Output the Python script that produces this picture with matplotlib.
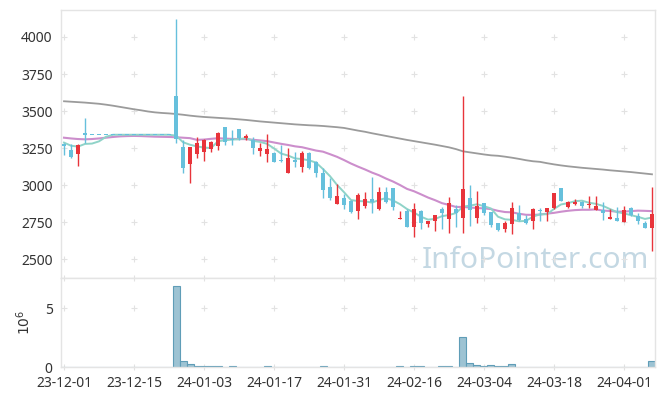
import matplotlib
matplotlib.use('Agg')
import matplotlib.pyplot as plt
import numpy as np
import pandas as pd

# ---------------- data ----------------
dates = ("2023-12-01 2023-12-04 2023-12-05 2023-12-06 2023-12-07 2023-12-08 2023-12-11 2023-12-12 "
         "2023-12-13 2023-12-14 2023-12-15 2023-12-18 2023-12-19 2023-12-20 2023-12-21 2023-12-22 "
         "2023-12-26 2023-12-27 2023-12-28 2024-01-02 2024-01-03 2024-01-04 2024-01-05 2024-01-08 "
         "2024-01-09 2024-01-10 2024-01-11 2024-01-12 2024-01-15 2024-01-16 2024-01-17 2024-01-18 "
         "2024-01-19 2024-01-22 2024-01-23 2024-01-24 2024-01-25 2024-01-26 2024-01-29 2024-01-30 "
         "2024-01-31 2024-02-01 2024-02-02 2024-02-05 2024-02-06 2024-02-07 2024-02-08 2024-02-13 "
         "2024-02-14 2024-02-15 2024-02-16 2024-02-19 2024-02-20 2024-02-21 2024-02-22 2024-02-23 "
         "2024-02-26 2024-02-27 2024-02-28 2024-02-29 2024-03-04 2024-03-05 2024-03-06 2024-03-07 "
         "2024-03-08 2024-03-11 2024-03-12 2024-03-13 2024-03-14 2024-03-15 2024-03-18 2024-03-19 "
         "2024-03-20 2024-03-21 2024-03-22 2024-03-25 2024-03-26 2024-03-27 2024-03-28 2024-03-29 "
         "2024-04-01 2024-04-02 2024-04-03 2024-04-04 2024-04-05").split()

opens = [3275, 3237, 3212, 3352, 3340, 3340, 3340, 3340, 3340, 3340,
         3340, 3340, 3340, 3340, 3340, 3340, 3600, 3260, 3141, 3210,
         3226, 3242, 3266, 3390, 3312, 3380, 3318, 3305, 3233, 3210,
         3220, 3170, 3085, 3170, 3120, 3220, 3155, 3085, 2990, 2875,
         2910, 2893, 2828, 2861, 2904, 2839, 2956, 2980, 2770, 2822,
         2716, 2826, 2738, 2755, 2840, 2770, 2840, 2776, 2912, 2780,
         2878, 2817, 2742, 2702, 2738, 2810, 2770, 2758, 2830, 2818,
         2844, 2980, 2850, 2873, 2889, 2864, 2832, 2832, 2774, 2777,
         2754, 2845, 2792, 2747, 2710]
closes = [3265, 3187, 3270, 3340, 3340, 3340, 3340, 3340, 3340, 3340,
          3340, 3340, 3340, 3340, 3340, 3340, 3310, 3118, 3255, 3282,
          3305, 3289, 3350, 3288, 3305, 3315, 3332, 3253, 3253, 3242,
          3158, 3160, 3186, 3155, 3220, 3115, 3085, 2967, 2915, 2927,
          2868, 2819, 2934, 2904, 2884, 2956, 2884, 2855, 2778, 2720,
          2839, 2742, 2758, 2798, 2815, 2877, 2810, 2974, 2832, 2860,
          2814, 2731, 2697, 2742, 2844, 2765, 2745, 2840, 2822, 2844,
          2945, 2896, 2884, 2889, 2861, 2875, 2859, 2814, 2783, 2758,
          2832, 2798, 2758, 2713, 2805]
highs = [3282, 3280, 3278, 3455, 3340, 3340, 3340, 3340, 3340, 3340,
         3340, 3340, 3340, 3340, 3340, 3340, 4120, 3305, 3260, 3327,
         3310, 3300, 3357, 3395, 3372, 3382, 3342, 3327, 3282, 3343,
         3226, 3271, 3253, 3226, 3230, 3225, 3160, 3114, 3046, 3008,
         2940, 2900, 2945, 2952, 3053, 2990, 2985, 2982, 2828, 2840,
         2877, 2830, 2760, 2800, 2850, 2922, 2866, 3602, 3001, 2960,
         2880, 2820, 2745, 2760, 2889, 2866, 2800, 2845, 2845, 2848,
         2948, 2982, 2895, 2907, 2895, 2927, 2925, 2889, 2840, 2855,
         2860, 2855, 2810, 2760, 2986]
lows = [3200, 3185, 3130, 3287, 3340, 3340, 3340, 3340, 3340, 3340,
        3340, 3340, 3340, 3340, 3340, 3340, 3285, 3080, 3012, 3181,
        3163, 3222, 3237, 3271, 3272, 3305, 3305, 3208, 3199, 3158,
        3155, 3155, 3084, 3125, 3087, 3110, 3053, 2911, 2900, 2875,
        2837, 2815, 2770, 2844, 2814, 2835, 2880, 2832, 2768, 2715,
        2652, 2702, 2716, 2690, 2702, 2675, 2720, 2680, 2724, 2742,
        2800, 2720, 2690, 2686, 2670, 2760, 2740, 2702, 2755, 2758,
        2840, 2890, 2848, 2866, 2848, 2844, 2830, 2765, 2772, 2755,
        2752, 2790, 2740, 2708, 2558]
volumes_m = [0.005, 0.005, 0.005, 0.005, 0, 0, 0, 0, 0, 0,
             0, 0, 0, 0, 0, 0, 6.89, 0.53, 0.25, 0.08,
             0.08, 0.08, 0.08, 0.01, 0.07, 0.01, 0.01, 0.01, 0.01, 0.07,
             0.01, 0.01, 0.01, 0.01, 0.01, 0.01, 0.01, 0.07, 0.01, 0.01,
             0.01, 0.01, 0.01, 0.01, 0.01, 0.01, 0.01, 0.01, 0.07, 0.01,
             0.07, 0.07, 0.01, 0.01, 0.07, 0.07, 0.01, 2.54, 0.34, 0.17,
             0.08, 0.17, 0.08, 0.08, 0.25, 0.01, 0.01, 0.01, 0.01, 0.01,
             0.01, 0.01, 0.01, 0.01, 0.01, 0.01, 0.01, 0.06, 0.01, 0.01,
             0.01, 0.06, 0.01, 0.01, 0.53]
ma5_head = [3287, 3266, 3260, 3278]
ma20_head = [3320, 3315, 3311, 3309, 3311, 3315, 3320, 3325, 3329, 3331,
             3332, 3331, 3329, 3327, 3326, 3325, 3323, 3320, 3317]
ma_long = [3566, 3563, 3560, 3557, 3553, 3549, 3543, 3536, 3528, 3520,
           3512, 3505, 3497, 3491, 3487, 3484, 3480, 3475, 3469, 3464,
           3460, 3457, 3454, 3451, 3448, 3444, 3440, 3435, 3430, 3426,
           3422, 3418, 3414, 3410, 3407, 3404, 3402, 3399, 3395, 3391,
           3386, 3377, 3368, 3360, 3350, 3341, 3332, 3323, 3314, 3305,
           3297, 3289, 3281, 3273, 3264, 3255, 3243, 3228, 3221, 3214,
           3207, 3201, 3198, 3192, 3185, 3177, 3168, 3161, 3157, 3148,
           3140, 3133, 3127, 3122, 3117, 3113, 3109, 3105, 3100, 3096,
           3092, 3088, 3083, 3078, 3073]
price_ticks = [2500, 2750, 3000, 3250, 3500, 3750, 4000]
volume_ticks = [0, 5]

# ---------------- style ----------------
plt.rcParams['font.family'] = ['Noto Sans', 'DejaVu Sans']
RED = '#e8343b'
BLUE = '#66c0dc'
TXT = '#333333'
GRID = '#e2e2e2'
SPINE = '#e4e4e4'

W, H = 665, 396
fig = plt.figure(figsize=(W / 100, H / 100), dpi=100)
L, R = 61, 655
ax = fig.add_axes([L / W, 1 - 278.3 / H, (R - L) / W, (278.3 - 10) / H])
axv = fig.add_axes([L / W, 1 - 367.3 / H, (R - L) / W, (367.3 - 278.3) / H], sharex=ax)

n = len(closes)
x = np.arange(n)
o = np.array(opens, float)
c = np.array(closes, float)
h = np.array(highs, float)
lo = np.array(lows, float)
col = np.where(c > o, RED, BLUE)

# moving averages
ma5 = pd.Series(c).rolling(5).mean().to_numpy()
ma5[:len(ma5_head)] = ma5_head
ma20 = pd.Series(c).rolling(20).mean().to_numpy()
ma20[:len(ma20_head)] = ma20_head

ax.plot(x, ma_long, color='#9b9b9b', lw=1.3, zorder=2)
ax.plot(x, ma20, color='#cc8ecc', lw=1.5, zorder=2)
ax.plot(x, ma5, color='#8fd3c8', lw=1.4, zorder=2)

# candles
ax.vlines(x, lo, h, colors=col, linewidth=1.0, zorder=3)
bh = np.abs(c - o)
bb = np.minimum(o, c)
minh = 8.0
flat = bh < minh
bb = np.where(flat, (o + c) / 2 - minh / 2, bb)
bh = np.where(flat, minh, bh)
ax.bar(x, bh, bottom=bb, width=0.62, color=col, linewidth=0, zorder=4)

ax.set_xlim(-0.43, n - 1 + 0.43)
ax.set_ylim(2371, 4182)
ax.set_yticks(price_ticks)
ax.set_yticklabels([str(t) for t in price_ticks])

xt = list(range(0, n, 10))
xlabels = [d[2:] for d in dates[::10]]

for a in (ax, axv):
    a.tick_params(length=0, labelsize=10, colors=TXT, pad=6)
    for s in a.spines.values():
        s.set_color(SPINE)
        s.set_linewidth(1.0)
plt.setp(ax.get_xticklabels(), visible=False)

# "+" grid markers
for xv in xt:
    for yv in price_ticks:
        ax.plot(xv, yv, marker='+', color=GRID, ms=4.5, mew=0.8, zorder=1)
    for yv in [0, 5, 7.54]:
        axv.plot(xv, yv, marker='+', color=GRID, ms=4.5, mew=0.8, zorder=1, clip_on=False)

# watermark
ax.text(0.99, 0.038, 'InfoPointer.com', transform=ax.transAxes, ha='right', va='baseline',
        fontsize=21.5, color='#c4d8e3', zorder=0)

# volume
axv.bar(x, volumes_m, width=1.0, color='#9dc3d3', edgecolor='#5f9db7', linewidth=0.8, zorder=2)
axv.set_ylim(0, 7.54)
axv.set_yticks(volume_ticks)
axv.set_yticklabels([str(t) for t in volume_ticks])
axv.set_xticks(xt)
axv.set_xticklabels(xlabels)
axv.set_ylabel(r'$10^{6}$', fontsize=10, color=TXT, labelpad=8)

fig.savefig('out.png', dpi=100, facecolor='white')
